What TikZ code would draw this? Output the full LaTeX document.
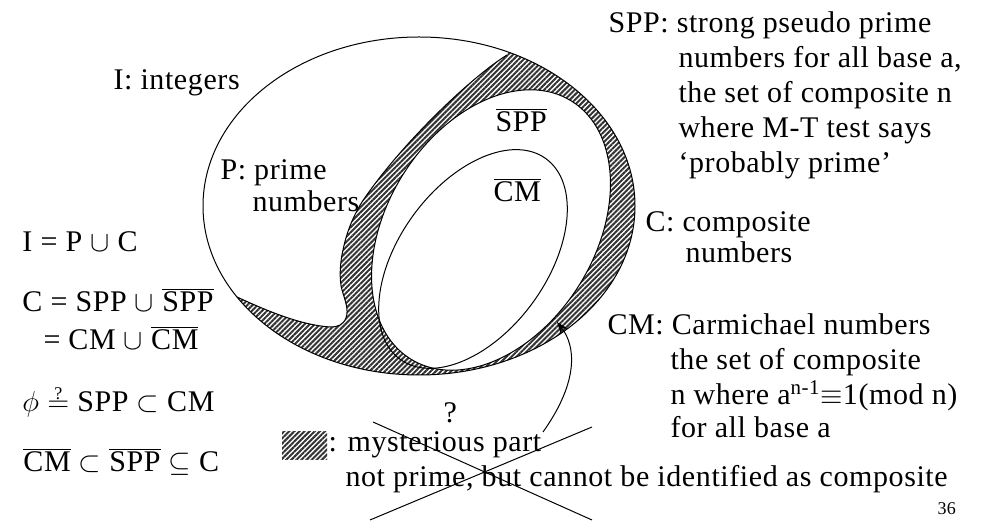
\documentclass[tikz,border=0pt]{standalone}
\usepackage{fontspec}
\setmainfont{Liberation Serif}[LetterSpace=2]
\usetikzlibrary{arrows.meta,patterns.meta}

\begin{document}
\begin{tikzpicture}[
    x=0.5pt, y=-0.5pt, line width=0.5pt,
    txt/.style={anchor=base west, inner sep=0pt, font=\fontsize{15}{17}\selectfont},
    pagenum/.style={anchor=base west, inner sep=0pt, font=\fontsize{9}{10}\selectfont},
    hatch/.style={pattern={Lines[angle=45, distance=1.8pt, line width=1pt]},
                  pattern color=black!80}
]
\useasboundingbox[fill=white] (0,0) rectangle (986,522);

% ================================================================
%  Sets I, SPP-bar, CM-bar
% ================================================================
\coordinate (Ic) at (419,206);
\coordinate (Sc) at (491,230);
\coordinate (Mc) at (473,259);

\coordinate (edgetop)  at (507,55);
\coordinate (edgetail) at (237,297);
\def\mysteryedge{.. controls (470,78) and (400,145) .. (362,202)
    .. controls (352,218) and (346,235) .. (343,250)
    .. controls (340,262) and (339,280) .. (342,290)
    .. controls (345,300) and (349,310) .. (346,318)
    .. controls (343,325) and (338,327) .. (330,327)
    .. controls (300,325) and (265,310) .. (edgetail)}

% mysterious part
\begin{scope}
    \clip (Ic) ellipse [x radius=216, y radius=169];
    \fill[hatch] (525,20) -- (edgetop) \mysteryedge -- (215,290)
        -- (215,400) -- (660,400) -- (660,20) -- cycle;
\end{scope}
\draw (edgetop) \mysteryedge;

\filldraw[fill=white] (Sc) ellipse [x radius=152, y radius=104, rotate=58];
\draw (Mc) ellipse [x radius=124, y radius=74, rotate=54];
\draw (Ic) ellipse [x radius=216, y radius=169];

% labels inside
\node[txt] (intlab)  at (113,90)  {I: integers};
\node[txt] (primeA)  at (220,180) {P: prime};
\node[txt] (primeB)  at (252,212) {numbers};
\node[txt] (spplab)  at (495,132) {$\overline{\mbox{SPP}}$};
\node[txt] (cmlab)   at (493,202) {$\overline{\mbox{CM}}$};

% ================================================================
%  Definitions on the right
% ================================================================
\node[txt] (sppA) at (608,33)  {SPP: strong pseudo prime};
\node[txt] (sppB) at (678,68)  {numbers for all base a,};
\node[txt] (sppC) at (678,103) {the set of composite n};
\node[txt] (sppD) at (678,138) {where M-T test says};
\node[txt] (sppE) at (678,173) {‘probably prime’};

\node[txt] (compA) at (645,232) {C: composite};
\node[txt] (compB) at (685,263) {numbers};

\node[txt] (cmA) at (607,335) {CM: Carmichael numbers};
\node[txt] (cmB) at (670,370) {the set of composite};
\node[txt] (cmC) at (670,405) {n where a\textsuperscript{n-1}$\equiv$1(mod n)};
\node[txt] (cmD) at (670,438) {for all base a};

% ================================================================
%  Relations on the left
% ================================================================
\node[txt] (relA) at (22,252) {I = P $\cup$ C};
\node[txt] (relB) at (22,312) {C = SPP $\cup$ $\overline{\mbox{SPP}}$};
\node[txt] (relC) at (43,350) {= CM $\cup$ $\overline{\mbox{CM}}$};
\node[txt] (relD) at (22,412) {$\phi$ $\stackrel{\raisebox{-2pt}{\mbox{\small ?}}}{=}$ SPP $\subset$ CM};
\node[txt] (relE) at (23,472) {$\overline{\mbox{CM}}$ $\subset$ $\overline{\mbox{SPP}}$ $\subseteq$ C};

% ================================================================
%  Key, question and cross
% ================================================================
\node[hatch, minimum width=22.5pt, minimum height=14pt, inner sep=0pt] (key) at (304.5,446) {};
\node[txt] (keyA) at (328,452) {: mysterious part};
\node[txt] (keyB) at (345,487) {not prime, but cannot be identified as composite};
\node[txt] (qmark) at (443,423) {?};

\coordinate (xa) at (373,422);
\coordinate (xb) at (592,520);
\coordinate (xc) at (370,520);
\coordinate (xd) at (592,427);
\draw (xa) -- (xb);
\draw (xc) -- (xd);

\coordinate (arrstart) at (543,432);
\coordinate (arrtip)   at (557,322);
\draw[-{Stealth[length=6pt, width=4.5pt]}] (arrstart) .. controls (580,380) and (575,345) .. (arrtip);

\node[pagenum] (pageno) at (937,515) {36};
\end{tikzpicture}
\end{document}
